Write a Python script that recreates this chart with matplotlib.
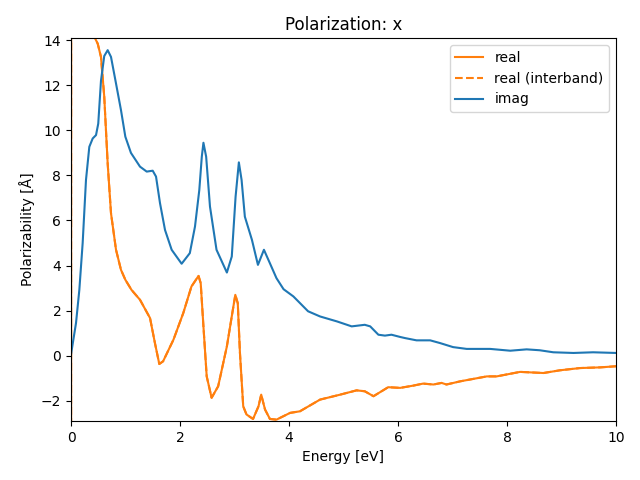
import matplotlib
matplotlib.use("Agg")
import matplotlib.pyplot as plt

# Energy grid and values
energy_real = [0.0, 0.005, 0.1, 0.2, 0.3, 0.428, 0.49, 0.55, 0.61, 0.673, 0.734, 0.826, 0.917,
               0.997, 1.11, 1.266, 1.45, 1.54, 1.62, 1.69, 1.88, 2.06, 2.21, 2.34, 2.38, 2.43,
               2.49, 2.58, 2.70, 2.86, 2.97, 3.015, 3.06, 3.10, 3.16, 3.22, 3.34, 3.44, 3.49,
               3.56, 3.65, 3.77, 4.02, 4.2, 4.57, 4.94, 5.24, 5.39, 5.55, 5.82, 6.04, 6.28,
               6.46, 6.65, 6.8, 6.89, 7.14, 7.63, 7.81, 8.24, 8.67, 8.97, 9.34, 9.71, 10.0]
real = [-40.0, 60.0, 25.0, 18.0, 15.5, 14.15, 13.85, 13.26, 11.5, 8.53, 6.32, 4.7, 3.81,
        3.37, 2.92, 2.48, 1.67, 0.56, -0.37, -0.25, 0.71, 1.89, 3.07, 3.54, 3.22, 1.3,
        -0.92, -1.87, -1.36, 0.41, 2.04, 2.7, 2.33, 0.12, -2.25, -2.61, -2.81, -2.25, -1.73,
        -2.39, -2.81, -2.84, -2.54, -2.47, -1.95, -1.73, -1.54, -1.58, -1.8, -1.4, -1.43, -1.33,
        -1.24, -1.28, -1.21, -1.28, -1.14, -0.92, -0.92, -0.72, -0.77, -0.65, -0.55, -0.52, -0.47]

energy_imag = [0.0, 0.092, 0.153, 0.214, 0.275, 0.336, 0.398, 0.459, 0.50, 0.55, 0.61, 0.673,
               0.734, 0.826, 0.917, 0.997, 1.1, 1.266, 1.389, 1.499, 1.56, 1.633, 1.725, 1.847,
               2.03, 2.18, 2.275, 2.354, 2.40, 2.43, 2.48, 2.55, 2.67, 2.86, 2.95, 3.02, 3.08,
               3.13, 3.19, 3.32, 3.43, 3.54, 3.65, 3.77, 3.9, 4.08, 4.35, 4.57, 4.88, 5.15,
               5.39, 5.49, 5.64, 5.76, 5.88, 6.04, 6.13, 6.34, 6.59, 6.77, 7.01, 7.26, 7.69,
               8.06, 8.36, 8.6, 8.85, 9.22, 9.58, 10.0]
imag = [0.05, 1.45, 2.92, 5.0, 7.8, 9.27, 9.64, 9.79, 10.3, 12.2, 13.3, 13.56,
        13.26, 12.08, 10.9, 9.72, 9.0, 8.39, 8.17, 8.21, 7.95, 6.77, 5.58, 4.7,
        4.08, 4.55, 5.73, 7.35, 8.83, 9.45, 8.83, 6.62, 4.7, 3.69, 4.4, 7.06, 8.58,
        7.8, 6.17, 5.14, 4.03, 4.7, 4.1, 3.44, 2.95, 2.63, 1.97, 1.74, 1.52, 1.3,
        1.37, 1.3, 0.93, 0.89, 0.93, 0.83, 0.78, 0.68, 0.68, 0.56, 0.38, 0.3, 0.3,
        0.22, 0.28, 0.24, 0.15, 0.12, 0.15, 0.12]

fig, ax = plt.subplots(figsize=(6.4, 4.8), dpi=100)
ax.plot(energy_real, real, color='C1', label='real')
ax.plot(energy_real, real, color='C1', linestyle='--', label='real (interband)')
ax.plot(energy_imag, imag, color='C0', label='imag')
ax.set_xlim(0, 10)
ax.set_ylim(-2.9, 14.1)
ax.set_title('Polarization: x')
ax.set_xlabel('Energy [eV]')
ax.set_ylabel('Polarizability [Å]')
ax.legend(loc='upper right')
fig.subplots_adjust(left=71/640, right=616/640, top=1-38/480, bottom=1-421/480)
fig.savefig('out.png')
